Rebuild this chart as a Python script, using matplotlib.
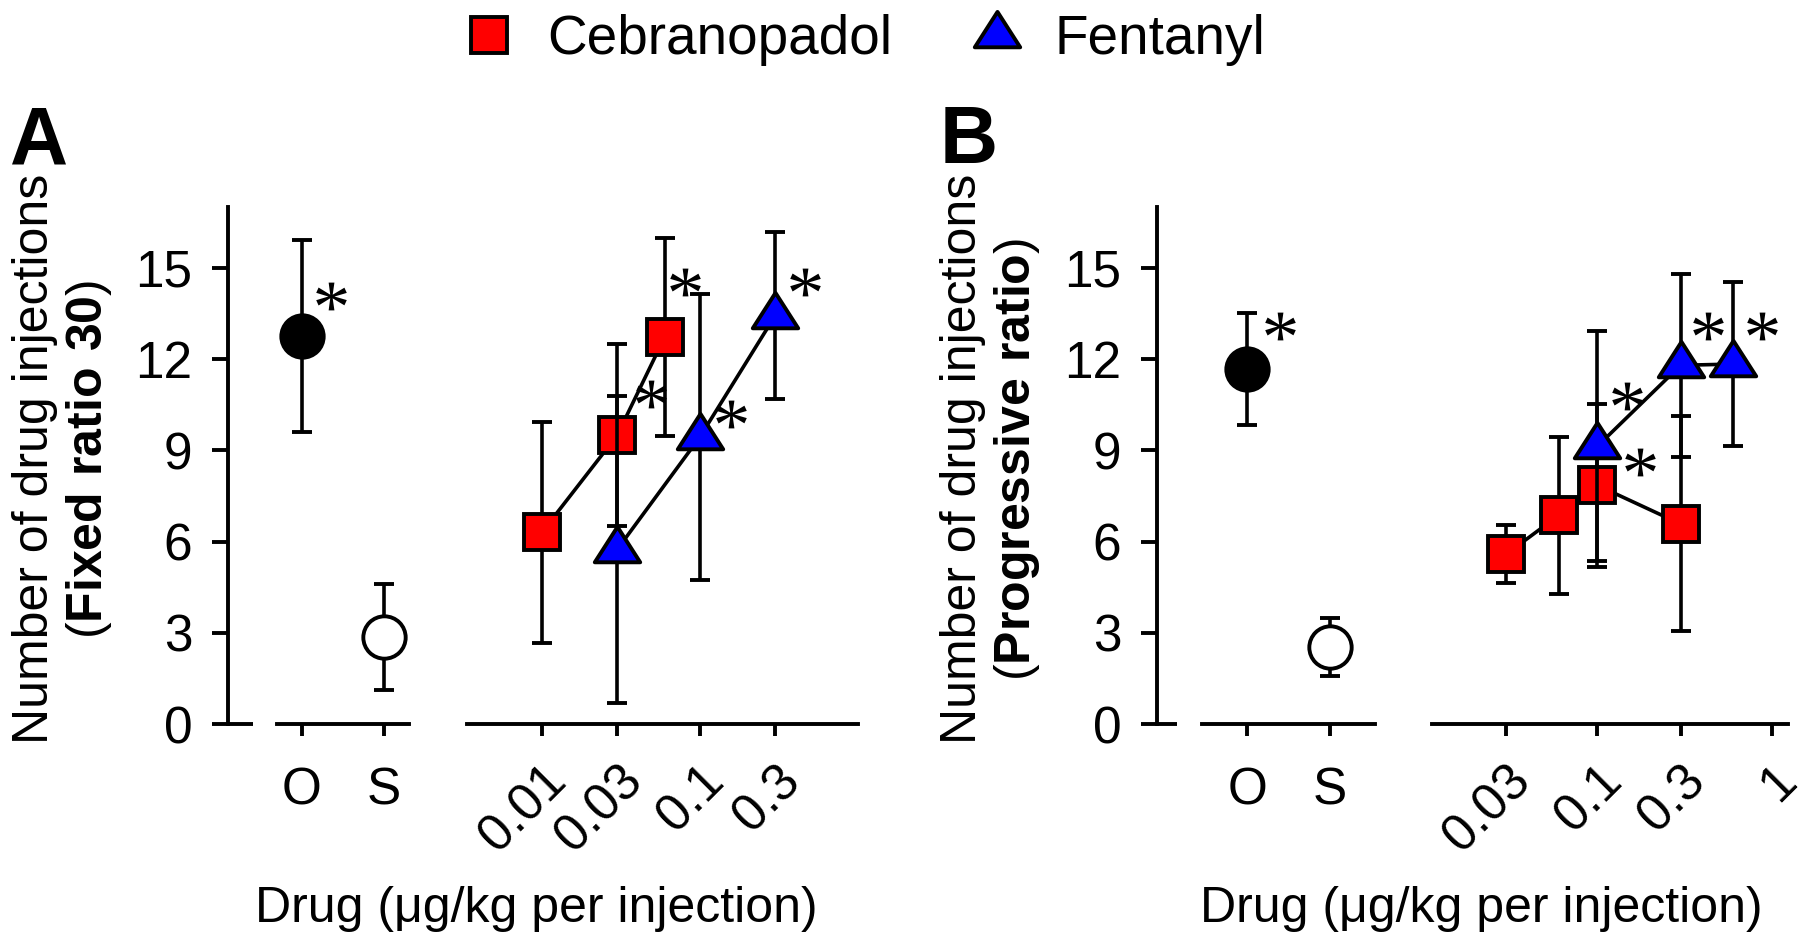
import matplotlib

matplotlib.use("Agg")
import matplotlib.pyplot as plt
from matplotlib.lines import Line2D
from matplotlib.markers import MarkerStyle
from matplotlib.path import Path
from matplotlib.ticker import NullLocator

plt.rcParams["font.family"] = ["Liberation Sans", "DejaVu Sans"]
plt.rcParams["mathtext.fontset"] = "custom"
plt.rcParams["mathtext.rm"] = "Liberation Serif"
plt.rcParams["mathtext.bf"] = "Liberation Sans:bold"

# ---- data ----
ctrl_labels = ["O", "S"]

# A: fixed ratio 30
fr_ctrl_mean = [12.75, 2.87]
fr_ctrl_sem = [3.14, 1.73]
fr_ceb_dose = [0.01, 0.03, 0.06]
fr_ceb_mean = [6.30, 9.49, 12.72]
fr_ceb_sem = [3.64, 2.99, 3.25]
fr_fen_dose = [0.03, 0.1, 0.3]
fr_fen_mean = [5.74, 9.43, 13.42]
fr_fen_sem = [5.04, 4.69, 2.75]
fr_ctrl_star = (1.36, 14.06)
fr_star_dose = [0.049, 0.081, 0.158, 0.464]
fr_star_y = [10.86, 14.53, 10.2, 14.53]
fr_ticks = [0.01, 0.03, 0.1, 0.3]
fr_ticklabels = ["0.01", "0.03", "0.1", "0.3"]

# B: progressive ratio
pr_ctrl_mean = [11.66, 2.53]
pr_ctrl_sem = [1.84, 0.95]
pr_ceb_dose = [0.03, 0.06, 0.1, 0.3]
pr_ceb_mean = [5.58, 6.86, 7.85, 6.58]
pr_ceb_sem = [0.95, 2.58, 2.67, 3.53]
pr_fen_dose = [0.1, 0.3, 0.6]
pr_fen_mean = [9.13, 11.79, 11.83]
pr_fen_sem = [3.77, 3.0, 2.68]
pr_ctrl_star = (1.40, 13.07)
pr_star_dose = [0.147, 0.175, 0.43, 0.875]
pr_star_y = [10.78, 8.61, 13.07, 13.07]
pr_ticks = [0.03, 0.1, 0.3, 1]
pr_ticklabels = ["0.03", "0.1", "0.3", "1"]

y_ticks = [0, 3, 6, 9, 12, 15]

# ---- styles ----
LW = 2.8
ELW = 2.6
TICK_FS = 37
TRI = MarkerStyle(
    Path([(-1.0, -0.52), (1.0, -0.52), (0.0, 1.04), (-1.0, -0.52)], closed=True),
    joinstyle="miter",
)
SQ = MarkerStyle("s", joinstyle="miter")
err_kw = dict(ecolor="black", elinewidth=ELW, capsize=7.5, capthick=ELW, clip_on=False)
star_kw = dict(ls="none", marker="$*$", ms=22, color="black", mew=0, clip_on=False)

fig = plt.figure(figsize=(18, 9.44), dpi=100)
AX_B, AX_H = 0.2327, 0.5484


def style_axis(ax):
    ax.set_ylim(0, 17)
    for s in ("top", "right"):
        ax.spines[s].set_visible(False)
    for s in ("left", "bottom"):
        ax.spines[s].set_linewidth(LW)
    ax.tick_params(axis="x", direction="out", length=8.6, width=LW, labelsize=TICK_FS)
    ax.tick_params(axis="y", direction="out", length=11.5, width=LW,
                   labelsize=TICK_FS, pad=14)


def panel(cat_rect, cat_xlim, seg_start, stub_end, dose_rect, dose_xlim,
          ticks, ticklabels, ctrl_mean, ctrl_sem, ctrl_star,
          ceb_dose, ceb_mean, ceb_sem, fen_dose, fen_mean, fen_sem,
          star_dose, star_y):
    ax_c = fig.add_axes([cat_rect[0], AX_B, cat_rect[1], AX_H])
    ax_d = fig.add_axes([dose_rect[0], AX_B, dose_rect[1], AX_H])
    style_axis(ax_c)
    style_axis(ax_d)

    # controls (O filled, S open)
    ax_c.set_xlim(*cat_xlim)
    ax_c.spines["bottom"].set_bounds(seg_start, cat_xlim[1])
    ax_c.plot([cat_xlim[0], stub_end], [0, 0], color="black", lw=LW,
              clip_on=False, solid_capstyle="butt")
    for i, fill in enumerate(["black", "white"]):
        ax_c.errorbar(i + 1, ctrl_mean[i], yerr=ctrl_sem[i], fmt="o", ms=30.5,
                      mfc=fill, mec="black", mew=2.8, zorder=3, **err_kw)
    ax_c.plot(*ctrl_star, zorder=5, **star_kw)
    ax_c.set_xticks([1, 2], ctrl_labels)
    ax_c.set_yticks(y_ticks)
    ax_c.tick_params(axis="x", pad=22)

    # dose-response
    ax_d.set_xscale("log")
    ax_d.set_xlim(*dose_xlim)
    ax_d.spines["left"].set_visible(False)
    ax_d.set_yticks([])
    ax_d.errorbar(ceb_dose, ceb_mean, yerr=ceb_sem, fmt="-", color="black", lw=ELW,
                  marker=SQ, ms=26, mfc="red", mec="black", mew=2.8, zorder=3, **err_kw)
    ax_d.errorbar(fen_dose, fen_mean, yerr=fen_sem, fmt="-", color="black", lw=ELW,
                  marker=TRI, ms=34, mfc="blue", mec="black", mew=2.8, zorder=4, **err_kw)
    ax_d.plot(star_dose, star_y, zorder=6, **star_kw)
    ax_d.set_xticks(ticks)
    ax_d.set_xticklabels(ticklabels, rotation=45, ha="right", va="top",
                         rotation_mode="anchor")
    ax_d.xaxis.set_minor_locator(NullLocator())
    ax_d.tick_params(axis="x", pad=14)


panel((0.1265, 0.1009), (0.101, 2.307), 0.7035, 0.412,
      (0.2593, 0.2176), (0.003353, 1.0088), fr_ticks, fr_ticklabels,
      fr_ctrl_mean, fr_ctrl_sem, fr_ctrl_star,
      fr_ceb_dose, fr_ceb_mean, fr_ceb_sem, fr_fen_dose, fr_fen_mean, fr_fen_sem,
      fr_star_dose, fr_star_y)

panel((0.6426, 0.1213), (-0.0955, 2.544), 0.4486, 0.1536,
      (0.7954, 0.1981), (0.01126, 1.2416), pr_ticks, pr_ticklabels,
      pr_ctrl_mean, pr_ctrl_sem, pr_ctrl_star,
      pr_ceb_dose, pr_ceb_mean, pr_ceb_sem, pr_fen_dose, pr_fen_mean, pr_fen_sem,
      pr_star_dose, pr_star_y)

# axis titles and panel letters
ylab_y = 1 - 459 / 944
fig.text(35 / 1800, ylab_y, "Number of drug injections", rotation=90,
         ha="center", va="center", fontsize=36)
fig.text(89 / 1800, ylab_y, r"($\mathbf{Fixed\ ratio\ 30}$)", rotation=90,
         ha="center", va="center", fontsize=36)
fig.text(963 / 1800, ylab_y, "Number of drug injections", rotation=90,
         ha="center", va="center", fontsize=36)
fig.text(1017 / 1800, ylab_y, r"($\mathbf{Progressive\ ratio}$)", rotation=90,
         ha="center", va="center", fontsize=36)
fig.text(536 / 1800, 0.037, "Drug (μg/kg per injection)", ha="center",
         va="center", fontsize=36)
fig.text(1481 / 1800, 0.037, "Drug (μg/kg per injection)", ha="center",
         va="center", fontsize=36)
fig.text(10 / 1800, 1 - 163 / 944, "A", fontsize=58, fontweight="bold",
         ha="left", va="baseline")
fig.text(940 / 1800, 1 - 163 / 944, "B", fontsize=58, fontweight="bold",
         ha="left", va="baseline")

# legend
h_ceb = Line2D([], [], ls="none", marker=SQ, ms=26, mfc="red", mec="black", mew=2.8)
h_fen = Line2D([], [], ls="none", marker=TRI, ms=34, mfc="blue", mec="black", mew=2.8)
fig.legend([h_ceb, h_fen], ["Cebranopadol", "Fentanyl"], loc="center left",
           bbox_to_anchor=(462 / 1800, 1 - 40 / 944), ncol=2, frameon=False,
           fontsize=39.5, handlelength=1.0, handletextpad=0.55, columnspacing=1.41,
           borderpad=0, borderaxespad=0)

fig.savefig("out.png", dpi=100)
